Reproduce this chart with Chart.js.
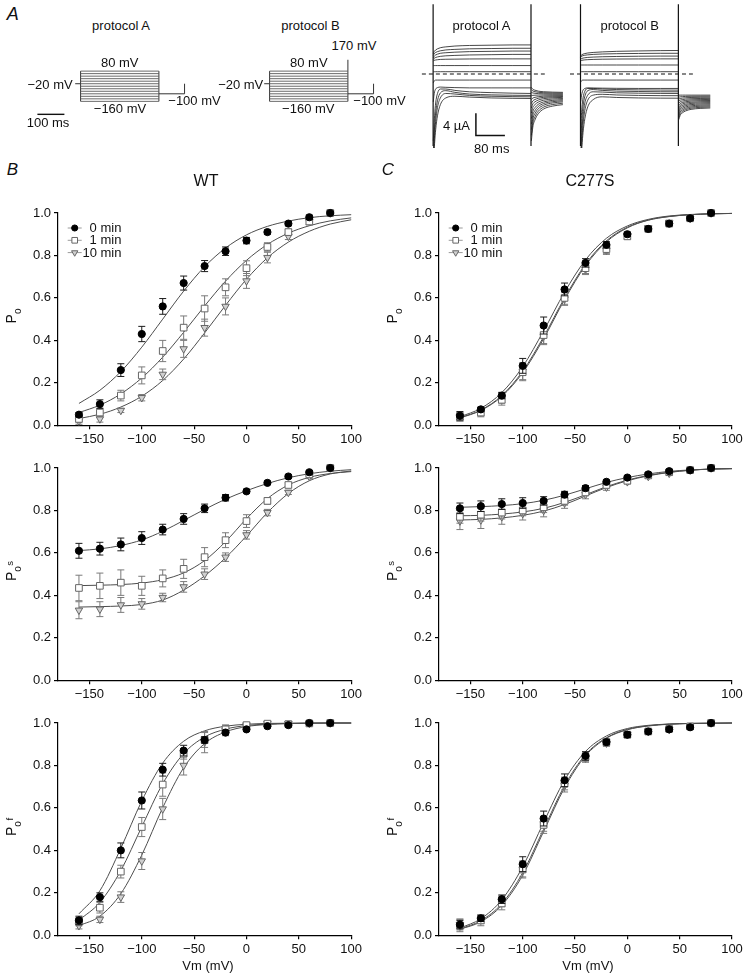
<!DOCTYPE html>
<html>
<head>
<meta charset="utf-8">
<title>Po vs Vm</title>
<script src="https://cdn.jsdelivr.net/npm/chart.js@4.4.1/dist/chart.umd.min.js"></script>
<style>
html,body{margin:0;padding:0;background:#fff;}
body{position:relative;width:747px;height:977px;overflow:hidden;font-family:"Liberation Sans",Arial,Helvetica,sans-serif;color:#111;}
canvas{position:absolute;}
.t{position:absolute;white-space:nowrap;line-height:1;}
.yt{position:absolute;white-space:nowrap;font-size:14px;line-height:14px;transform:translate(-50%,-50%) rotate(-90deg);}
.yt .sb{position:relative;font-size:10px;top:4.5px;}
.yt .sp{position:relative;font-size:9.5px;top:-3px;margin-left:0.5px;}
</style>
</head>
<body>
<script>
// ---------------- data: activation curves ----------------
const V = [-160,-140,-120,-100,-80,-60,-40,-20,0,20,40,60,80];
const V_FIT = [-160,-140,-120,-100,-80,-60,-40,-20,0,20,40,60,80,100];
const X_TICKS = [-150,-100,-50,0,50,100];
const Y_TICKS = [0,0.2,0.4,0.6,0.8,1.0];
const LEGEND_LABELS = ['  0 min','  1 min','10 min'];

// WT, Po
const wtPo0  = [0.05,0.10,0.26,0.43,0.56,0.67,0.75,0.82,0.87,0.91,0.95,0.98,1.00];
const wtPo0e = [0.01,0.02,0.03,0.036,0.037,0.033,0.026,0.02,0.015,0.01,0.01,0.01,0.005];
const wtPo1  = [0.03,0.06,0.14,0.235,0.35,0.46,0.55,0.65,0.74,0.84,0.91,0.96,1.00];
const wtPo1e = [0.015,0.02,0.025,0.04,0.05,0.055,0.06,0.04,0.035,0.02,0.015,0.015,0.005];
const wtPo10  = [0.02,0.03,0.07,0.13,0.24,0.36,0.46,0.56,0.68,0.79,0.89,0.96,1.00];
const wtPo10e = [0.015,0.015,0.01,0.015,0.025,0.04,0.04,0.04,0.035,0.025,0.015,0.015,0.005];
const wtPoFit0  = [0.103,0.165,0.253,0.368,0.5,0.632,0.747,0.835,0.897,0.937,0.962,0.978,0.987,0.992];
const wtPoFit1  = [0.060,0.095,0.148,0.223,0.321,0.438,0.562,0.679,0.777,0.852,0.905,0.940,0.963,0.977];
const wtPoFit10 = [0.032,0.052,0.086,0.137,0.211,0.312,0.435,0.565,0.688,0.789,0.863,0.914,0.948,0.968];

// WT, Po slow
const wtPs0  = [0.61,0.62,0.64,0.67,0.71,0.76,0.81,0.86,0.89,0.93,0.96,0.98,1.00];
const wtPs0e = [0.035,0.03,0.03,0.03,0.025,0.025,0.02,0.015,0.01,0.008,0.008,0.008,0.005];
const wtPs1  = [0.435,0.445,0.46,0.445,0.48,0.525,0.58,0.66,0.75,0.845,0.92,0.97,1.00];
const wtPs1e = [0.06,0.06,0.06,0.045,0.04,0.045,0.045,0.035,0.03,0.015,0.01,0.01,0.005];
const wtPs10  = [0.33,0.335,0.355,0.36,0.39,0.44,0.50,0.58,0.685,0.79,0.885,0.96,1.00];
const wtPs10e = [0.04,0.035,0.035,0.025,0.02,0.025,0.025,0.02,0.02,0.015,0.01,0.01,0.005];
const wtPsFit0  = [0.611,0.619,0.635,0.661,0.702,0.753,0.805,0.853,0.893,0.927,0.954,0.973,0.985,0.992];
const wtPsFit1  = [0.446,0.448,0.451,0.458,0.474,0.506,0.564,0.653,0.761,0.856,0.920,0.956,0.974,0.983];
const wtPsFit10 = [0.345,0.347,0.350,0.357,0.378,0.425,0.492,0.577,0.680,0.790,0.880,0.940,0.972,0.986];

// WT, Po fast
const wtPf0  = [0.07,0.18,0.40,0.635,0.78,0.87,0.92,0.955,0.97,0.985,0.99,1.00,1.00];
const wtPf0e = [0.02,0.02,0.035,0.04,0.03,0.025,0.015,0.01,0.01,0.008,0.005,0.005,0.005];
const wtPf1  = [0.065,0.13,0.30,0.51,0.71,0.855,0.92,0.97,0.99,0.997,0.995,0.998,1.00];
const wtPf1e = [0.02,0.025,0.03,0.045,0.055,0.025,0.035,0.02,0.01,0.005,0.005,0.005,0.005];
const wtPf10  = [0.045,0.075,0.18,0.35,0.595,0.80,0.91,0.965,0.99,0.997,0.997,0.998,1.00];
const wtPf10e = [0.015,0.015,0.025,0.04,0.05,0.045,0.05,0.025,0.01,0.005,0.005,0.005,0.005];
const wtPfFit0  = [0.101,0.21,0.410,0.633,0.811,0.914,0.963,0.985,0.994,0.998,0.999,1.0,1.0,1.0];
const wtPfFit1  = [0.071,0.155,0.305,0.511,0.714,0.856,0.934,0.971,0.988,0.995,0.998,0.999,1.0,1.0];
const wtPfFit10 = [0.045,0.09,0.196,0.378,0.601,0.789,0.903,0.958,0.983,0.993,0.997,0.999,1.0,1.0];

// C277S, Po
const cPo0  = [0.045,0.075,0.14,0.28,0.47,0.64,0.765,0.85,0.90,0.925,0.95,0.975,1.00];
const cPo0e = [0.02,0.01,0.015,0.035,0.04,0.03,0.02,0.015,0.01,0.01,0.01,0.01,0.005];
const cPo1  = [0.04,0.06,0.12,0.25,0.425,0.60,0.74,0.83,0.89,0.925,0.95,0.975,1.00];
const cPo1e = [0.02,0.02,0.025,0.04,0.04,0.03,0.025,0.02,0.015,0.01,0.01,0.01,0.005];
const cPo10  = [0.04,0.065,0.13,0.255,0.42,0.595,0.735,0.825,0.895,0.93,0.955,0.975,1.00];
const cPo10e = [0.02,0.02,0.025,0.04,0.04,0.03,0.025,0.02,0.015,0.01,0.01,0.01,0.005];
const cPoFit0  = [0.040,0.080,0.154,0.276,0.445,0.627,0.779,0.881,0.939,0.970,0.986,0.993,0.997,0.998];
const cPoFit1  = [0.036,0.072,0.140,0.255,0.417,0.600,0.759,0.869,0.933,0.967,0.984,0.992,0.996,0.998];
const cPoFit10 = [0.034,0.070,0.136,0.248,0.408,0.592,0.752,0.864,0.930,0.966,0.983,0.992,0.996,0.998];

// C277S, Po slow
const cPs0  = [0.81,0.82,0.83,0.835,0.845,0.875,0.905,0.935,0.955,0.97,0.985,0.99,1.00];
const cPs0e = [0.025,0.025,0.025,0.025,0.02,0.015,0.012,0.008,0.008,0.008,0.008,0.008,0.005];
const cPs1  = [0.77,0.78,0.79,0.80,0.815,0.845,0.885,0.92,0.94,0.965,0.98,0.99,1.00];
const cPs1e = [0.03,0.03,0.03,0.025,0.025,0.02,0.015,0.012,0.01,0.008,0.008,0.008,0.005];
const cPs10  = [0.75,0.755,0.77,0.785,0.80,0.835,0.875,0.91,0.935,0.96,0.975,0.99,1.00];
const cPs10e = [0.04,0.04,0.035,0.03,0.03,0.025,0.02,0.015,0.01,0.008,0.008,0.008,0.005];
const cPsFit0  = [0.815,0.818,0.823,0.832,0.848,0.872,0.902,0.932,0.955,0.972,0.984,0.991,0.995,0.997];
const cPsFit1  = [0.775,0.777,0.783,0.793,0.810,0.838,0.874,0.912,0.943,0.965,0.980,0.990,0.995,0.997];
const cPsFit10 = [0.755,0.758,0.765,0.777,0.797,0.828,0.868,0.908,0.940,0.963,0.979,0.989,0.995,0.997];

// C277S, Po fast
const cPf0  = [0.05,0.08,0.17,0.335,0.55,0.73,0.845,0.91,0.945,0.96,0.97,0.98,1.00];
const cPf0e = [0.02,0.015,0.02,0.035,0.035,0.03,0.02,0.012,0.012,0.01,0.01,0.01,0.005];
const cPf1  = [0.047,0.07,0.15,0.31,0.52,0.715,0.84,0.91,0.945,0.96,0.972,0.984,1.00];
const cPf1e = [0.03,0.025,0.03,0.04,0.04,0.03,0.02,0.015,0.015,0.01,0.01,0.01,0.005];
const cPf10  = [0.05,0.075,0.16,0.31,0.525,0.705,0.835,0.905,0.945,0.96,0.97,0.985,1.00];
const cPf10e = [0.025,0.02,0.025,0.035,0.035,0.03,0.02,0.015,0.012,0.01,0.01,0.01,0.005];
const cPfFit0  = [0.034,0.078,0.167,0.323,0.532,0.731,0.866,0.939,0.974,0.989,0.995,0.998,0.999,1.0];
const cPfFit1  = [0.030,0.069,0.149,0.295,0.5,0.705,0.851,0.931,0.970,0.987,0.995,0.998,0.999,1.0];
const cPfFit10 = [0.028,0.064,0.141,0.283,0.489,0.695,0.845,0.928,0.968,0.986,0.994,0.998,0.999,1.0];

// ---------------- data: protocols (ms, mV) ----------------
const STEP_MV = [80,60,40,20,0,-20,-40,-60,-80,-100,-120,-140,-160];
const HOLD_MV = -20, TAIL_MV = -100, PRE_B_MV = 170;
const T_HOLD = -20, T_ON = 0, T_OFF = 290, T_END = 385;
const PROTO_BAR_MS = [-160, -60], PROTO_BAR_MV = -263;

// ---------------- data: current traces (ms, µA) ----------------
const T_STEP = [0.5,2,4,7,12,20,35,60,100,160,220,270];
const T_TAIL = [271,275,281,290,305,330,358];
const SPIKE_TOP = 12.5, SPIKE_BOT = -12.9;
const STEP_A = [
  [3.6,3.9,4.1,4.3,4.5,4.7,4.85,5.0,5.1,5.15,5.2,5.2],
  [3.3,3.5,3.7,3.85,4.0,4.15,4.3,4.4,4.5,4.55,4.6,4.6],
  [2.9,3.1,3.25,3.4,3.55,3.7,3.8,3.9,4.0,4.05,4.1,4.1],
  [2.6,2.75,2.85,2.95,3.05,3.15,3.25,3.32,3.4,3.45,3.5,3.5],
  [2.3,2.4,2.45,2.5,2.55,2.6,2.63,2.65,2.68,2.7,2.7,2.7],
  [1.5,1.5,1.5,1.5,1.5,1.5,1.5,1.5,1.5,1.5,1.5,1.5],
  [0.4,0.4,0.4,0.4,0.4,0.4,0.4,0.4,0.4,0.4,0.4,0.4],
  [-1.6,-1.35,-1.2,-1.1,-1.1,-1.1,-1.1,-1.1,-1.1,-1.1,-1.1,-1.1],
  [-5,-4,-3.2,-2.7,-2.45,-2.35,-2.4,-2.45,-2.5,-2.5,-2.5,-2.5],
  [-12,-10,-7.5,-5.2,-3.5,-2.7,-2.7,-2.95,-3.2,-3.35,-3.45,-3.5],
  [-14,-12,-9.5,-7,-4.8,-3.4,-3.0,-3.3,-3.6,-3.75,-3.82,-3.85],
  [-16,-13.5,-11,-8.5,-6,-4.3,-3.5,-3.6,-3.85,-4.0,-4.07,-4.1],
  [-18,-15,-12.5,-10,-7.5,-5.5,-4.3,-4.0,-4.15,-4.3,-4.37,-4.4]
];
const TAIL_A = [
  [-2.4,-2.74,-2.92,-3.08,-3.19,-3.26,-3.3],
  [-2.8,-3.05,-3.18,-3.29,-3.37,-3.42,-3.45],
  [-3.3,-3.41,-3.47,-3.53,-3.56,-3.59,-3.6],
  [-3.9,-3.84,-3.81,-3.79,-3.77,-3.76,-3.75],
  [-4.6,-4.33,-4.19,-4.08,-3.98,-3.93,-3.9],
  [-5.3,-4.83,-4.58,-4.36,-4.2,-4.1,-4.05],
  [-6.1,-5.38,-5.0,-4.68,-4.43,-4.28,-4.2],
  [-7.0,-6.01,-5.49,-5.05,-4.71,-4.5,-4.4],
  [-8.0,-6.71,-6.03,-5.45,-5.01,-4.74,-4.6],
  [-9.0,-7.4,-6.56,-5.85,-5.3,-4.97,-4.8],
  [-10,-8.1,-7.1,-6.25,-5.6,-5.2,-5.0],
  [-11,-8.82,-7.67,-6.69,-5.94,-5.48,-5.25],
  [-12,-9.53,-8.23,-7.13,-6.28,-5.76,-5.5]
];
const STEP_B = [
  [3.2,3.35,3.45,3.55,3.65,3.75,3.85,3.95,4.05,4.12,4.18,4.2],
  [3.0,3.1,3.2,3.28,3.35,3.42,3.5,3.57,3.63,3.67,3.7,3.7],
  [2.65,2.72,2.78,2.84,2.9,2.96,3.02,3.08,3.13,3.17,3.2,3.2],
  [2.35,2.4,2.44,2.48,2.52,2.56,2.6,2.64,2.67,2.69,2.7,2.7],
  [1.6,1.6,1.6,1.6,1.6,1.6,1.6,1.6,1.6,1.6,1.6,1.6],
  [0.4,0.4,0.4,0.4,0.4,0.4,0.4,0.4,0.4,0.4,0.4,0.4],
  [-1.5,-1.3,-1.15,-1.1,-1.1,-1.1,-1.1,-1.1,-1.1,-1.1,-1.1,-1.1],
  [-5,-4.2,-3.5,-2.9,-2.6,-2.5,-2.52,-2.55,-2.58,-2.6,-2.6,-2.6],
  [-10,-8,-6,-4.3,-3.1,-2.6,-2.6,-2.7,-2.8,-2.86,-2.89,-2.9],
  [-12.5,-10.5,-8,-5.8,-4,-3.0,-2.8,-2.95,-3.08,-3.15,-3.19,-3.2],
  [-14.5,-12.5,-10,-7.5,-5.2,-3.8,-3.2,-3.25,-3.38,-3.45,-3.49,-3.5],
  [-16.5,-14,-11.5,-9,-6.5,-4.7,-3.8,-3.65,-3.77,-3.85,-3.89,-3.9],
  [-18.5,-15.5,-13,-10.5,-8,-5.9,-4.6,-4.1,-4.22,-4.3,-4.34,-4.35]
];
const TAIL_B = [
  [-3.8,-3.8,-3.8,-3.8,-3.8,-3.8,-3.8],
  [-4.17,-4.10,-4.07,-4.03,-4.01,-4.0,-3.99],
  [-4.53,-4.40,-4.33,-4.27,-4.22,-4.19,-4.18],
  [-4.9,-4.70,-4.60,-4.51,-4.44,-4.40,-4.38],
  [-5.27,-5.0,-4.86,-4.75,-4.65,-4.6,-4.57],
  [-5.63,-5.30,-5.13,-4.98,-4.86,-4.79,-4.76],
  [-6.0,-5.6,-5.39,-5.21,-5.08,-4.99,-4.95],
  [-6.37,-5.90,-5.66,-5.45,-5.29,-5.19,-5.14],
  [-6.73,-6.2,-5.92,-5.68,-5.5,-5.39,-5.33],
  [-7.1,-6.50,-6.19,-5.92,-5.72,-5.59,-5.53],
  [-7.47,-6.81,-6.46,-6.16,-5.93,-5.79,-5.72],
  [-7.83,-7.10,-6.72,-6.39,-6.14,-5.99,-5.91],
  [-8.2,-7.40,-6.98,-6.63,-6.35,-6.18,-6.1]
];
const ZERO_A = [-31, 308], ZERO_B = [-29, 310];
const BAR_T0 = 118, BAR_I0 = -7.05, BAR_UA = 4, BAR_MS = 80;

// ---------------- rendering ----------------
Chart.defaults.font.family = '"Liberation Sans", Arial, Helvetica, sans-serif';
Chart.defaults.color = '#111';
Chart.defaults.animation = false;

const pts = (xs, ys) => xs.map((x, i) => ({x: x, y: ys[i]}));

function makeCanvas(left, top, w, h) {
  const c = document.createElement('canvas');
  c.width = w; c.height = h;
  c.style.left = left + 'px'; c.style.top = top + 'px';
  c.style.width = w + 'px'; c.style.height = h + 'px';
  document.body.appendChild(c);
  return c;
}

function addText(html, x, yc, align, size, extra) {
  const d = document.createElement('div');
  d.className = 't';
  d.innerHTML = html;
  d.style.fontSize = size + 'px';
  d.style.top = (yc - size * 0.49) + 'px';
  d.style.left = x + 'px';
  if (align === 'c') d.style.transform = 'translateX(-50%)';
  if (align === 'r') d.style.transform = 'translateX(-100%)';
  if (extra) d.style.cssText += extra;
  document.body.appendChild(d);
}

function yTitle(cx, cy, sup) {
  const d = document.createElement('div');
  d.className = 'yt';
  d.innerHTML = 'P<span class="sb">o</span>' + (sup ? '<span class="sp">' + sup + '</span>' : '');
  d.style.left = cx + 'px';
  d.style.top = cy + 'px';
  document.body.appendChild(d);
}

const errorBars = {
  id: 'errorBars',
  beforeDatasetDraw(chart, args) {
    const ds = chart.data.datasets[args.index];
    if (!ds.errors) return;
    const xs = chart.scales.x, ys = chart.scales.y, ctx = chart.ctx;
    ctx.save();
    ctx.strokeStyle = ds.errorColor;
    ctx.lineWidth = 1;
    ds.data.forEach((p, i) => {
      const e = ds.errors[i];
      const px = xs.getPixelForValue(p.x);
      const yt = ys.getPixelForValue(p.y + e), yb = ys.getPixelForValue(p.y - e);
      ctx.beginPath();
      ctx.moveTo(px, yt); ctx.lineTo(px, yb);
      ctx.moveTo(px - 3.5, yt); ctx.lineTo(px + 3.5, yt);
      ctx.moveTo(px - 3.5, yb); ctx.lineTo(px + 3.5, yb);
      ctx.stroke();
    });
    ctx.restore();
  }
};

function drawMarker(ctx, style, rot, r, x, y) {
  ctx.beginPath();
  if (style === 'circle') {
    ctx.arc(x, y, r, 0, Math.PI * 2);
  } else if (style === 'rect') {
    const s = r * Math.SQRT1_2;
    ctx.rect(x - s, y - s, 2 * s, 2 * s);
  } else {
    const sgn = rot === 180 ? -1 : 1;
    ctx.moveTo(x, y - sgn * r);
    ctx.lineTo(x + r * 0.866, y + sgn * r * 0.5);
    ctx.lineTo(x - r * 0.866, y + sgn * r * 0.5);
    ctx.closePath();
  }
  ctx.fill();
  ctx.stroke();
}

const miniLegend = {
  id: 'miniLegend',
  afterDatasetsDraw(chart, args, opts) {
    if (!opts || !opts.show) return;
    const ctx = chart.ctx, a = chart.chartArea;
    ctx.save();
    for (let i = 0; i < 3; i++) {
      const ds = chart.data.datasets[i];
      const cx = a.left + 16.7, cy = a.top + 15 + i * 12.3;
      ctx.strokeStyle = '#9a9a9a'; ctx.lineWidth = 1;
      ctx.beginPath(); ctx.moveTo(cx - 7, cy); ctx.lineTo(cx + 7, cy); ctx.stroke();
      ctx.fillStyle = ds.backgroundColor; ctx.strokeStyle = ds.borderColor; ctx.lineWidth = 1;
      drawMarker(ctx, ds.pointStyle, ds.pointRotation, ds.pointRadius * 0.85, cx, cy);
      ctx.fillStyle = '#111';
      ctx.font = '13px "Liberation Sans", Arial, sans-serif';
      ctx.textBaseline = 'middle';
      ctx.fillText(LEGEND_LABELS[i], a.left + 24.4, cy + 0.5);
    }
    ctx.restore();
  }
};

const SER = [
  {pointStyle: 'circle', pointRadius: 3.6, backgroundColor: '#000', borderColor: '#000', pointRotation: 0, errorColor: '#1a1a1a'},
  {pointStyle: 'rect', pointRadius: 4.7, backgroundColor: '#fff', borderColor: '#666', pointRotation: 0, errorColor: '#7a7a7a'},
  {pointStyle: 'triangle', pointRadius: 4.3, backgroundColor: '#d0d0d0', borderColor: '#666', pointRotation: 180, errorColor: '#7a7a7a'}
];

const fmtMinus = v => (v < 0 ? '\u2212' + Math.abs(v) : String(v));

function makePlot(area, vals, errs, fits, legend) {
  const yW = 58, padT = 14;
  const W = Math.ceil(yW + area.w + 20), H = Math.ceil(padT + area.h + 34);
  const padR = W - yW - area.w, xH = H - padT - area.h;
  const c = makeCanvas(area.x - yW, area.y - padT, W, H);
  const datasets = [];
  for (let i = 0; i < 3; i++) {
    const s = SER[i];
    datasets.push({
      label: LEGEND_LABELS[i].trim(), data: pts(V, vals[i]), errors: errs[i], errorColor: s.errorColor,
      pointStyle: s.pointStyle, pointRadius: s.pointRadius, pointRotation: s.pointRotation,
      backgroundColor: s.backgroundColor, borderColor: s.borderColor, borderWidth: 1,
      pointBackgroundColor: s.backgroundColor, pointBorderColor: s.borderColor, pointBorderWidth: 1,
      showLine: false, clip: false
    });
  }
  for (let i = 0; i < 3; i++) {
    datasets.push({
      label: 'fit ' + i, data: pts(V_FIT, fits[i]), showLine: true, pointRadius: 0,
      borderColor: '#4d4d4d', borderWidth: 1, cubicInterpolationMode: 'monotone', fill: false, clip: false
    });
  }
  new Chart(c, {
    type: 'scatter',
    data: {datasets: datasets},
    plugins: [errorBars, miniLegend],
    options: {
      responsive: false, animation: false, events: [],
      layout: {padding: {left: 0, top: padT, right: padR, bottom: 0}},
      plugins: {legend: {display: false}, tooltip: {enabled: false}, miniLegend: {show: legend}},
      scales: {
        x: {
          type: 'linear', min: -180, max: 100,
          afterBuildTicks: s => { s.ticks = X_TICKS.map(v => ({value: v})); },
          afterFit: s => { s.height = xH; },
          border: {display: true, color: '#000', width: 1.2},
          grid: {display: true, drawOnChartArea: false, drawTicks: true, tickLength: 4, color: '#000', lineWidth: 1.2},
          ticks: {padding: 2, font: {size: 13}, color: '#111', autoSkip: false, maxRotation: 0, callback: v => fmtMinus(v)}
        },
        y: {
          type: 'linear', min: 0, max: 1,
          afterBuildTicks: s => { s.ticks = Y_TICKS.map(v => ({value: v})); },
          afterFit: s => { s.width = yW; },
          border: {display: true, color: '#000', width: 1.2},
          grid: {display: true, drawOnChartArea: false, drawTicks: true, tickLength: 4, color: '#000', lineWidth: 1.2},
          ticks: {padding: 3, font: {size: 13}, color: '#111', autoSkip: false, callback: v => Number(v).toFixed(1)}
        }
      }
    }
  });
}

function plainChart(left, top, W, H, xr, yr, datasets) {
  const c = makeCanvas(left, top, W, H);
  new Chart(c, {
    type: 'scatter',
    data: {datasets: datasets},
    options: {
      responsive: false, animation: false, events: [],
      layout: {padding: 0},
      plugins: {legend: {display: false}, tooltip: {enabled: false}},
      scales: {
        x: {type: 'linear', min: xr[0], max: xr[1], display: false},
        y: {type: 'linear', min: yr[0], max: yr[1], display: false}
      }
    }
  });
}

function seg(data, color, width, smooth, dash) {
  return {data: data, showLine: true, pointRadius: 0, borderColor: color, borderWidth: width,
          cubicInterpolationMode: smooth ? 'monotone' : 'default', borderDash: dash || [], fill: false};
}

// ---- protocol diagrams ----
function protocolSets(rightTop, withBar) {
  const lo = Math.min.apply(null, STEP_MV), hi = Math.max.apply(null, STEP_MV);
  const ds = [];
  STEP_MV.forEach(v => ds.push(seg([{x: T_ON, y: v}, {x: T_OFF, y: v}], '#5a5a5a', 0.9)));
  ds.push(seg([{x: T_HOLD, y: HOLD_MV}, {x: T_ON, y: HOLD_MV}], '#333', 1));
  ds.push(seg([{x: T_ON, y: lo}, {x: T_ON, y: hi}], '#333', 1));
  ds.push(seg([{x: T_OFF, y: lo}, {x: T_OFF, y: rightTop}], '#333', 1));
  ds.push(seg([{x: T_OFF, y: TAIL_MV}, {x: T_END, y: TAIL_MV}, {x: T_END, y: HOLD_MV}], '#333', 1));
  if (withBar) ds.push(seg([{x: PROTO_BAR_MS[0], y: PROTO_BAR_MV}, {x: PROTO_BAR_MS[1], y: PROTO_BAR_MV}], '#111', 1.4));
  return ds;
}
// 0.27 px per ms, 0.126 px per mV
plainChart(32.4, 55.6, 162, 63, [-180, 420], [-300, 200], protocolSets(Math.max.apply(null, STEP_MV), true));
plainChart(221.4, 55.6, 162, 63, [-180, 420], [-300, 200], protocolSets(PRE_B_MV, false));

// ---- current traces ----
function traceSets(steps, tails, zero, withBar) {
  const ds = [];
  steps.forEach(arr => ds.push(seg(pts(T_STEP, arr), '#1a1a1a', 0.8, true)));
  tails.forEach(arr => ds.push(seg(pts(T_TAIL, arr), '#1a1a1a', 0.8, true)));
  ds.push(seg([{x: 0, y: SPIKE_TOP}, {x: 0, y: SPIKE_BOT}], '#111', 1.2));
  ds.push(seg([{x: T_STEP[T_STEP.length - 1], y: SPIKE_TOP}, {x: T_STEP[T_STEP.length - 1], y: SPIKE_BOT}], '#111', 1.2));
  ds.push(seg([{x: zero[0], y: 0}, {x: zero[1], y: 0}], '#111', 1.1, false, [4, 3]));
  if (withBar) ds.push(seg([{x: BAR_T0, y: BAR_I0}, {x: BAR_T0, y: BAR_I0 - BAR_UA}, {x: BAR_T0 + BAR_MS, y: BAR_I0 - BAR_UA}], '#111', 1.5));
  return ds;
}
// 0.3625 px per ms, 5.58 px per µA; zero current at y=74
plainChart(415.2, 0.065, 156, 148, [-50, -50 + 156 / 0.3625], [13.25 - 148 / 5.58, 13.25], traceSets(STEP_A, TAIL_A, ZERO_A, true));
plainChart(566.2, 0.065, 149, 148, [-40, -40 + 149 / 0.3625], [13.25 - 148 / 5.58, 13.25], traceSets(STEP_B, TAIL_B, ZERO_B, false));

// ---- Po plots ----
const AREA_B = {x: 58.3, w: 293.2}, AREA_C = {x: 439, w: 293};
const ROW_TOP = [212.7, 467.7, 723.3], ROW_H = 212.3;
makePlot({x: AREA_B.x, w: AREA_B.w, y: ROW_TOP[0], h: ROW_H}, [wtPo0, wtPo1, wtPo10], [wtPo0e, wtPo1e, wtPo10e], [wtPoFit0, wtPoFit1, wtPoFit10], true);
makePlot({x: AREA_B.x, w: AREA_B.w, y: ROW_TOP[1], h: ROW_H}, [wtPs0, wtPs1, wtPs10], [wtPs0e, wtPs1e, wtPs10e], [wtPsFit0, wtPsFit1, wtPsFit10], false);
makePlot({x: AREA_B.x, w: AREA_B.w, y: ROW_TOP[2], h: ROW_H}, [wtPf0, wtPf1, wtPf10], [wtPf0e, wtPf1e, wtPf10e], [wtPfFit0, wtPfFit1, wtPfFit10], false);
makePlot({x: AREA_C.x, w: AREA_C.w, y: ROW_TOP[0], h: ROW_H}, [cPo0, cPo1, cPo10], [cPo0e, cPo1e, cPo10e], [cPoFit0, cPoFit1, cPoFit10], true);
makePlot({x: AREA_C.x, w: AREA_C.w, y: ROW_TOP[1], h: ROW_H}, [cPs0, cPs1, cPs10], [cPs0e, cPs1e, cPs10e], [cPsFit0, cPsFit1, cPsFit10], false);
makePlot({x: AREA_C.x, w: AREA_C.w, y: ROW_TOP[2], h: ROW_H}, [cPf0, cPf1, cPf10], [cPf0e, cPf1e, cPf10e], [cPfFit0, cPfFit1, cPfFit10], false);

// ---- text ----
addText('A', 6.7, 14, 'l', 18, 'font-style:italic;');
addText('protocol A', 121, 25, 'c', 13);
addText('protocol B', 310.5, 25, 'c', 13);
addText('80 mV', 119.7, 62, 'c', 13);
addText('\u221220 mV', 72.7, 84, 'r', 13);
addText('\u2212160 mV', 120, 108.8, 'c', 13);
addText('\u2212100 mV', 168.3, 100.8, 'l', 13);
addText('100 ms', 48, 122.5, 'c', 13);
addText('170 mV', 354, 45.8, 'c', 13);
addText('80 mV', 308.8, 62, 'c', 13);
addText('\u221220 mV', 263.3, 84, 'r', 13);
addText('\u2212160 mV', 308.3, 108.8, 'c', 13);
addText('\u2212100 mV', 353.3, 100.8, 'l', 13);
addText('protocol A', 481.5, 25, 'c', 13);
addText('protocol B', 629.7, 25, 'c', 13);
addText('4 \u00b5A', 470, 125, 'r', 13);
addText('80 ms', 491.7, 148.3, 'c', 13);
addText('B', 6.7, 169, 'l', 17, 'font-style:italic;');
addText('C', 381.7, 169.5, 'l', 17, 'font-style:italic;');
addText('WT', 206, 181, 'c', 16);
addText('C277S', 590, 181, 'c', 16);
addText('Vm (mV)', 208, 965, 'c', 13);
addText('Vm (mV)', 588, 965, 'c', 13);
yTitle(11.5, 316, '');
yTitle(11.5, 571, 's');
yTitle(11.5, 826.5, 'f');
yTitle(392.8, 316, '');
yTitle(392.8, 571, 's');
yTitle(392.8, 826.5, 'f');
</script>
</body>
</html>
